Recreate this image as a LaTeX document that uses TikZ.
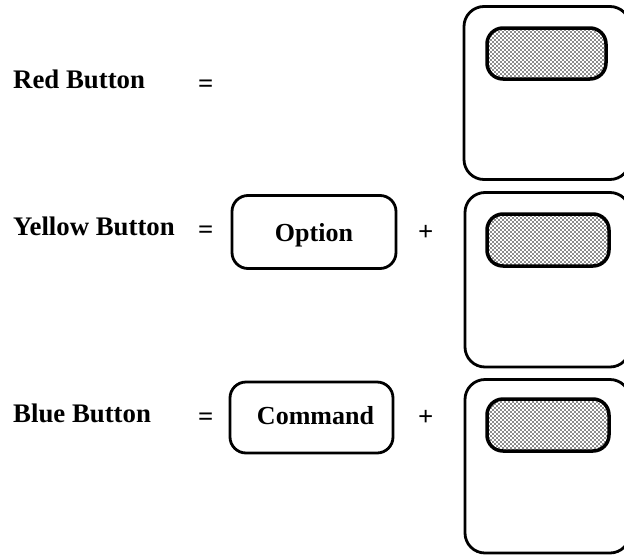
\documentclass[tikz,border=0pt]{standalone}
\usepackage{fontspec}
\setmainfont{Liberation Serif}
\usetikzlibrary{patterns}
\pgfdeclarepatternformonly{stipple}{\pgfqpoint{-0.5pt}{-0.5pt}}{\pgfqpoint{4.5pt}{4.5pt}}{\pgfqpoint{4pt}{4pt}}{%
  \pgfpathcircle{\pgfqpoint{1pt}{1pt}}{0.95pt}%
  \pgfpathcircle{\pgfqpoint{3pt}{3pt}}{0.95pt}%
  \pgfusepath{fill}%
}
\tikzset{
  px/.style={x=1pt,y=-1pt},
  lbl/.style={font=\fontsize{26.8}{28}\selectfont\bfseries, anchor=base west, inner sep=0pt},
  keytext/.style={font=\fontsize{26}{28}\selectfont\bfseries, anchor=base, inner sep=0pt},
  key/.style={draw=black, line width=2.8pt, rounded corners=16pt, fill=white},
  panel/.style={draw=black, line width=2.8pt, rounded corners=20pt},
  btn/.style={draw=black, line width=3.5pt, rounded corners=16pt, pattern=stipple, pattern color=black!90}
}
\begin{document}
\begin{tikzpicture}[px]
\useasboundingbox (0,0) rectangle (624,555);
% labels
\node[lbl] (red) at (13,88) {Red Button};
\node[lbl] (yellow) at (13,235) {Yellow Button};
\node[lbl] (blue) at (13,422) {Blue Button};
\node[lbl] (eq1) at (198,92) {=};
\node[lbl] (eq2) at (198,238) {=};
\node[lbl] (eq3) at (198,425) {=};
\node[lbl] (plus2) at (418,240) {+};
\node[lbl] (plus3) at (418,425) {+};
% key boxes
\draw[key] (232,195.5) rectangle (396,268.5);
\node[keytext] (opt) at (314,241) {Option};
\draw[key] (230,382) rectangle (393,453);
\node[keytext] (cmd) at (315.5,424) {Command};
% mouse panels
\draw[panel] (464,6.5) rectangle (630,179.5);
\draw[btn] (487,28) rectangle (606,79);
\draw[panel] (465,192.5) rectangle (630,367);
\draw[btn] (487,214) rectangle (609,266);
\draw[panel] (465,379.5) rectangle (630,553);
\draw[btn] (487,399) rectangle (609,451);
\end{tikzpicture}
\end{document}
